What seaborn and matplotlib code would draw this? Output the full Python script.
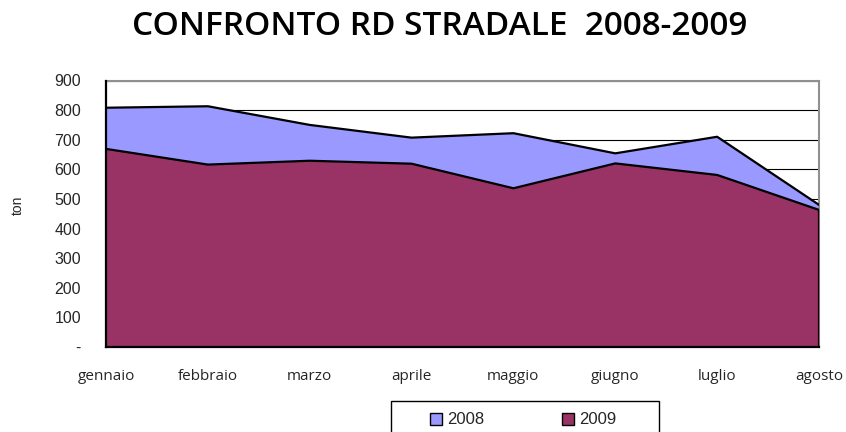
import matplotlib
matplotlib.use("Agg")
import matplotlib.pyplot as plt
from matplotlib.patches import Patch, Rectangle
from matplotlib.ticker import FuncFormatter, MultipleLocator
import seaborn as sns
import pandas as pd

months = ["gennaio", "febbraio", "marzo", "aprile", "maggio", "giugno", "luglio", "agosto"]
ton_2008 = [808, 813, 750, 707, 722, 654, 710, 480]
ton_2009 = [669, 616, 629, 619, 536, 620, 581, 463]

color_2008 = "#9999FF"
color_2009 = "#993366"

sns.set_theme(style="white")
plt.rcParams["font.family"] = ["Liberation Sans", "DejaVu Sans"]

W, H = 846, 432


def fx(px):
    return px / W


def fy(py):
    return 1 - py / H


df = pd.DataFrame({
    "pos": list(range(len(months))) * 2,
    "ton": ton_2008 + ton_2009,
    "anno": ["2008"] * len(months) + ["2009"] * len(months),
})

fig = plt.figure(figsize=(W / 100, H / 100), dpi=100)
ax = fig.add_axes([fx(106), fy(347), (819 - 106) / W, (347 - 80.5) / H])

x = list(range(len(months)))
ax.yaxis.grid(True, color="black", linewidth=0.8, zorder=0)
ax.set_axisbelow(True)
ax.fill_between(x, ton_2008, 0, color=color_2008, zorder=2, linewidth=0)
ax.fill_between(x, ton_2009, 0, color=color_2009, zorder=3, linewidth=0)
sns.lineplot(data=df, x="pos", y="ton", hue="anno",
             palette={"2008": "black", "2009": "black"},
             linewidth=1.6, legend=False, ax=ax, zorder=4)
# right edge of the front area
ax.vlines(len(months) - 1, 0, ton_2009[-1], color="black", linewidth=1.6, zorder=4)

ax.set_xlim(0, len(months) - 1)
ax.set_ylim(0, 900)
ax.yaxis.set_major_locator(MultipleLocator(100))
ax.yaxis.set_major_formatter(FuncFormatter(lambda v, p: "-" if v == 0 else f"{v:.0f}"))
ax.set_xticks(x)
ax.set_xticklabels(months, fontfamily="Open Sans", fontsize=11)
ax.tick_params(axis="both", which="major", direction="out", length=5, width=0.8,
               color="black")
ax.tick_params(axis="y", labelsize=11.5, pad=13)
ax.tick_params(axis="x", pad=11)
ax.set_xlabel("")
ax.set_ylabel("")
fig.text(fx(17.5), fy(205), "ton", rotation=90, ha="center", va="center", fontsize=10)

for side in ["left", "bottom"]:
    ax.spines[side].set_color("black")
    ax.spines[side].set_linewidth(1.6)
    ax.spines[side].set_zorder(5)
for side in ["top", "right"]:
    ax.spines[side].set_color("#909090")
    ax.spines[side].set_linewidth(1.5)

fig.text(fx(440), fy(26.5), "CONFRONTO RD STRADALE  2008-2009",
         ha="center", va="center", fontsize=24, fontweight="semibold",
         fontfamily=["Open Sans", "DejaVu Sans"], color="black")

# legend box, open at the bottom edge of the figure
fig.patches.append(Rectangle((fx(391), fy(445)), (659 - 391) / W, (445 - 401) / H,
                             transform=fig.transFigure, facecolor="white",
                             edgecolor="black", linewidth=1.0, zorder=1))
handles = [Patch(facecolor=color_2008, edgecolor="black", linewidth=1.0, label="2008"),
           Patch(facecolor=color_2009, edgecolor="black", linewidth=1.0, label="2009")]
leg = fig.legend(handles=handles, loc="center left",
                 bbox_to_anchor=(fx(430), fy(420)), ncol=2,
                 frameon=False, fontsize=12,
                 handlelength=0.72, handleheight=0.72, handletextpad=0.3,
                 columnspacing=4.7, borderpad=0, borderaxespad=0)
leg.set_zorder(2)

fig.savefig("out.png", dpi=100)
